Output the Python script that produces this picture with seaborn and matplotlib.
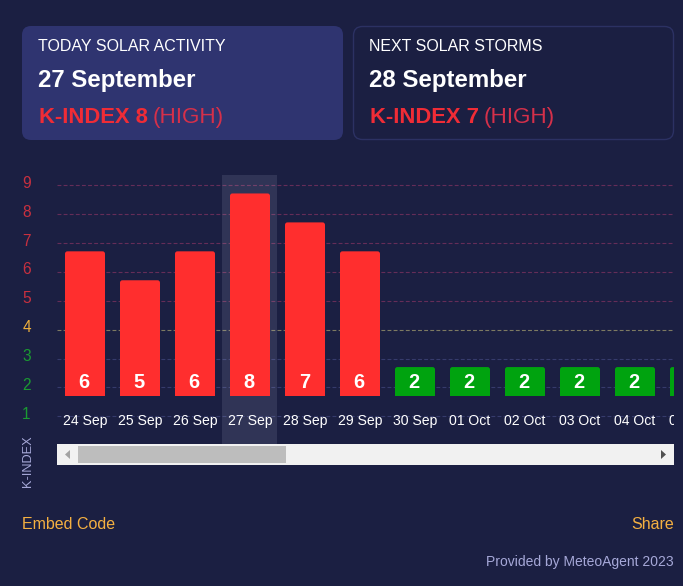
import matplotlib
matplotlib.use("Agg")
import matplotlib.pyplot as plt
import seaborn as sns
from matplotlib.patches import FancyBboxPatch, Polygon, Rectangle
from matplotlib.transforms import Affine2D, Bbox, IdentityTransform, TransformedBbox

dates = ["24 Sep", "25 Sep", "26 Sep", "27 Sep", "28 Sep", "29 Sep", "30 Sep",
         "01 Oct", "02 Oct", "03 Oct", "04 Oct", "05 Oct"]
k_index = [6, 5, 6, 8, 7, 6, 2, 2, 2, 2, 2, 2]
levels = [1, 2, 3, 4, 5, 6, 7, 8, 9]
level_colors = ["#1a9a32", "#1a9a32", "#1a9a32", "#f0b03c", "#c8303f", "#c8303f", "#c8303f", "#c8303f", "#c8303f"]
grid_colors = ["#363b6c", "#363b6c", "#363b6c", "#7d7a62", "#652d58", "#652d58", "#652d58", "#652d58", "#652d58"]
cards = [("TODAY SOLAR ACTIVITY", "27 September", "K-INDEX 8", "(HIGH)"),
         ("NEXT SOLAR STORMS", "28 September", "K-INDEX 7", "(HIGH)")]

BG = "#1b1f42"
W, H = 683, 586
sns.set_theme(style="white")
plt.rcParams["font.family"] = ["Liberation Sans", "DejaVu Sans"]
fig = plt.figure(figsize=(W / 100, H / 100), dpi=100, facecolor=BG)


def px(size):
    return size * 0.72


def rect(left, top, right, bottom):
    return [left / W, 1 - bottom / H, (right - left) / W, (bottom - top) / H]


# page layer, in pixels
page = fig.add_axes([0, 0, 1, 1], zorder=0)
page.set_xlim(0, W)
page.set_ylim(H, 0)
page.axis("off")
page.add_patch(FancyBboxPatch((22, 26), 321, 114, boxstyle="round,pad=0,rounding_size=9",
                              fc="#2f3470", ec="none"))
page.add_patch(FancyBboxPatch((353.5, 26.5), 320, 113, boxstyle="round,pad=0,rounding_size=9",
                              fc=BG, ec="#2c3163", lw=1))
for (head, day, kpart, level), x0, xh in zip(cards, (38, 369), (153, 484)):
    page.text(x0, 51, head, color="#ffffff", fontsize=px(16), va="baseline")
    page.text(x0, 87, day, color="#ffffff", fontsize=px(24), fontweight="bold", va="baseline")
    page.text(x0 + 1, 123, kpart, color="#f02c36", fontsize=px(22), fontweight="bold", va="baseline")
    page.text(xh, 123, level, color="#d5304a", fontsize=px(22.5), va="baseline")
page.text(28.5, 461.5, "K-INDEX", color="#a6a8d8", fontsize=px(12.8), rotation=90, ha="center", va="center")
page.text(22, 529, "Embed Code", color="#f5b041", fontsize=px(16), va="baseline")
page.text(674, 529, "Share", color="#f5b041", fontsize=px(16), ha="right", va="baseline")
page.text(674, 566, "Provided by MeteoAgent 2023", color="#a6a8d8", fontsize=px(13.9), ha="right", va="baseline")

X_MIN = -0.509
X_MAX_VISIBLE = 10.709
X_MAX_FULL = 11.5

# K-index scale with its dashed lines
grid = fig.add_axes(rect(57, 175, 674, 444), zorder=1)
grid.set_facecolor("none")
grid.set_xlim(X_MIN, X_MAX_VISIBLE)
grid.set_ylim(1 - (444 - 416.3) / 28.9, 9 + (185.3 - 175) / 28.9)
for level, color in zip(levels, grid_colors):
    grid.axhline(level, color=color, lw=0.8, ls=(0, (3.5, 2)), zorder=1)
peak = k_index.index(max(k_index))
grid.axvspan(peak - 0.5, peak + 0.5, color="#e0e4ff", alpha=0.11, lw=0, zorder=2)
grid.set_xticks([])
grid.set_yticks(levels)
grid.set_yticklabels(levels, fontsize=px(15.5))
grid.tick_params(axis="y", length=0, pad=22)
up = Affine2D().translate(0, 2)
for label, color in zip(grid.get_yticklabels(), level_colors):
    label.set_color(color)
    label.set_ha("center")
    label.set_va("center")
    label.set_transform(label.get_transform() + up)
sns.despine(ax=grid, left=True, bottom=True)

# bars; the axes floor sits at K-index 1 and the axes run on past the visible window
bars_right = 57 + (X_MAX_FULL - X_MIN) * 55
bars = fig.add_axes(rect(57, 175, bars_right, 396), zorder=2)
bars.set_facecolor("none")
palette = ["#ff2e2e" if v > 4 else "#00a30f" for v in k_index]
sns.barplot(x=dates, y=k_index, hue=dates, palette=palette, legend=False, width=40 / 55,
            saturation=1, ax=bars)
bars.set_xlabel("")
bars.set_ylabel("")
bars.set_yticks([])
bars.set_xticks(range(len(dates)))
bars.set_xticklabels(dates, fontsize=px(14), color="#ffffff")
bars.tick_params(axis="x", length=0, pad=px(18))
bars.set_xlim(X_MIN, X_MAX_FULL)
bars.set_ylim(1, 1 + (396.5 - 175) / 29)
window = Rectangle((57, H - 396), 617, 396, transform=IdentityTransform())
for patch in list(bars.patches):
    box = FancyBboxPatch((patch.get_x(), patch.get_y()), patch.get_width(), patch.get_height(),
                         boxstyle="round,pad=0,rounding_size=0.045", mutation_aspect=55 / 29,
                         fc=patch.get_facecolor(), ec="none")
    patch.remove()
    bars.add_patch(box)
    box.set_clip_path(window)
for i, v in enumerate(k_index):
    if i + 0.2 < X_MAX_VISIBLE:
        bars.annotate(str(v), (i, 1), xytext=(px(-0.8), px(13)), textcoords="offset points", ha="center", va="center",
                      color="#ffffff", fontsize=px(20), fontweight="bold")
clip = TransformedBbox(Bbox([[57, 0], [674, H]]), IdentityTransform())
for label in bars.get_xticklabels():
    label.set_clip_on(True)
    label.set_clip_box(clip)
sns.despine(ax=bars, left=True, bottom=True)

# scrollbar
top = fig.add_axes([0, 0, 1, 1], zorder=3)
top.set_xlim(0, W)
top.set_ylim(H, 0)
top.axis("off")
top.add_patch(Rectangle((57, 444), 617, 21, fc="#f1f1f1", ec="none"))
top.add_patch(Rectangle((78, 446), 208, 17, fc="#bdbdbd", ec="none"))
top.add_patch(Polygon([[70, 450], [70, 459], [65, 454.5]], fc="#a3a3a3", ec="none"))
top.add_patch(Polygon([[661, 450], [661, 459], [666, 454.5]], fc="#505050", ec="none"))

fig.savefig("out.png", dpi=100, facecolor=BG)
